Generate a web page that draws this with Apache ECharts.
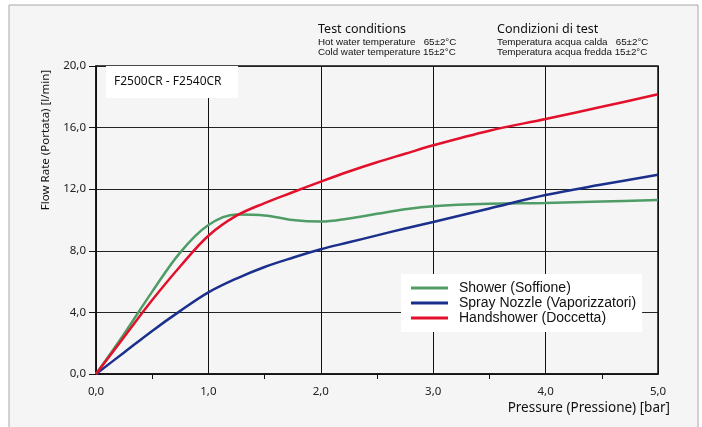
<!DOCTYPE html>
<html>
<head>
<meta charset="utf-8">
<script src="https://cdn.jsdelivr.net/npm/echarts@6/dist/echarts.min.js"></script>
<style>
body { margin:0; background:#fff; }
#chart { width:702px; height:427px; }
</style>
</head>
<body>
<div id="chart"></div>
<script>
var seriesNames = ['Shower (Soffione)', 'Spray Nozzle (Vaporizzatori)', 'Handshower (Doccetta)'];
var seriesColors = ['#4f9c66', '#1b2f8c', '#e3102b'];

// pressure [bar] read points
var pressure = [0, 0.25, 0.5, 0.75, 1.0, 1.25, 1.5, 1.75, 2.0, 2.25, 2.5, 2.75, 3.0, 3.5, 4.0, 4.5, 5.0];
// flow rate [l/min]
var shower     = [0, 2.6, 5.35, 7.9, 9.67, 10.35, 10.3, 10.0, 9.9, 10.1, 10.4, 10.7, 10.9, 11.05, 11.1, 11.2, 11.3];
var spray      = [0, 1.4, 2.8, 4.1, 5.3, 6.2, 6.95, 7.55, 8.1, 8.55, 9.0, 9.45, 9.87, 10.75, 11.62, 12.3, 12.94];
var handshower = [0, 2.4, 4.8, 7.0, 8.98, 10.28, 11.1, 11.8, 12.49, 13.15, 13.75, 14.3, 14.85, 15.8, 16.56, 17.35, 18.16];

var xTicks = [0, 1, 2, 3, 4, 5];
var yTicks = [0, 4, 8, 12, 16, 20];

var font = 'Noto Sans, DejaVu Sans, sans-serif';
var arial = 'Liberation Sans, Arial, sans-serif';
function fmt(v) { return v.toFixed(1).replace('.', ','); }
function pairs(ys) {
	return pressure.map(function(p, i) { return [p, ys[i]]; });
}

var chart = echarts.init(document.getElementById('chart'));
var option = {
	animation: false,
	textStyle: { fontFamily: font },
	grid: { left: 96, right: 44, top: 66, bottom: 53, show: true, borderColor: '#111', borderWidth: 1.5, backgroundColor: 'transparent' },
	legend: {
		orient: 'vertical', left: 401, top: 274,
		backgroundColor: '#fff', padding: [7, 6, 7, 10],
		itemWidth: 37, itemHeight: 3, itemGap: 1, icon: 'rect',
		textStyle: { fontFamily: arial, fontSize: 14, color: '#111', padding: [0, 0, 0, 6] },
		data: seriesNames
	},
	xAxis: {
		type: 'value', min: xTicks[0], max: xTicks[xTicks.length - 1], interval: 1,
		axisLine: { lineStyle: { color: '#111', width: 1.5 } },
		axisTick: { show: false },
		minorTick: { show: true, splitNumber: 2, length: 5, lineStyle: { color: '#111' } },
		axisLabel: { formatter: fmt, color: '#222', fontSize: 11.5, margin: 12 },
		splitLine: { lineStyle: { color: '#111', width: 1 } }
	},
	yAxis: {
		type: 'value', min: yTicks[0], max: yTicks[yTicks.length - 1], interval: 4,
		axisLine: { show: true, lineStyle: { color: '#111', width: 1.5 } },
		axisTick: { show: true, length: 7, lineStyle: { color: '#111' } },
		axisLabel: { formatter: fmt, color: '#222', fontSize: 11.5, margin: 10 },
		splitLine: { lineStyle: { color: '#222', width: 1 } }
	},
	series: [
		{ name: seriesNames[0], type: 'line', data: pairs(shower), smooth: 0.35, showSymbol: false, lineStyle: { width: 2.5 }, color: seriesColors[0] },
		{ name: seriesNames[1], type: 'line', data: pairs(spray), smooth: 0.35, showSymbol: false, lineStyle: { width: 2.5 }, color: seriesColors[1] },
		{ name: seriesNames[2], type: 'line', data: pairs(handshower), smooth: 0.35, showSymbol: false, lineStyle: { width: 2.5 }, color: seriesColors[2] }
	],
	graphic: [
		{ type: 'rect', z: -10, silent: true, shape: { x: 9, y: 5, width: 689, height: 440 },
			style: { fill: '#f5f5f5', stroke: '#a8a8a8', lineWidth: 1 } },
		{ type: 'rect', z: 100, shape: { x: 106, y: 66, width: 132, height: 32 }, style: { fill: '#fff' } },
		{ type: 'text', z: 101, x: 114, y: 82, style: { text: 'F2500CR - F2540CR', font: '12px ' + font, fill: '#111', verticalAlign: 'middle' } },
		{ type: 'text', z: 101, x: 318, y: 29, style: { text: 'Test conditions', font: '12.5px ' + font, fill: '#111', verticalAlign: 'middle' } },
		{ type: 'text', z: 101, x: 318, y: 42, style: { text: 'Hot water temperature   65\u00b12\u00b0C', font: '9.8px ' + arial, fill: '#111', verticalAlign: 'middle' } },
		{ type: 'text', z: 101, x: 318, y: 52.5, style: { text: 'Cold water temperature 15\u00b12\u00b0C', font: '9.8px ' + arial, fill: '#111', verticalAlign: 'middle' } },
		{ type: 'text', z: 101, x: 497, y: 29, style: { text: 'Condizioni di test', font: '12.5px ' + font, fill: '#111', verticalAlign: 'middle' } },
		{ type: 'text', z: 101, x: 497, y: 42, style: { text: 'Temperatura acqua calda   65\u00b12\u00b0C', font: '9.8px ' + arial, fill: '#111', verticalAlign: 'middle' } },
		{ type: 'text', z: 101, x: 497, y: 52.5, style: { text: 'Temperatura acqua fredda 15\u00b12\u00b0C', font: '9.8px ' + arial, fill: '#111', verticalAlign: 'middle' } },
		{ type: 'text', z: 101, x: 46, y: 140, rotation: Math.PI / 2,
			style: { text: 'Flow Rate (Portata) [l/min]', font: '11.5px ' + font, fill: '#111', align: 'center', verticalAlign: 'middle' } },
		{ type: 'text', z: 101, x: 670, y: 408,
			style: { text: 'Pressure (Pressione) [bar]', font: '13.5px ' + font, fill: '#111', align: 'right', verticalAlign: 'middle' } }
	]
};
chart.setOption(option);
</script>
</body>
</html>
